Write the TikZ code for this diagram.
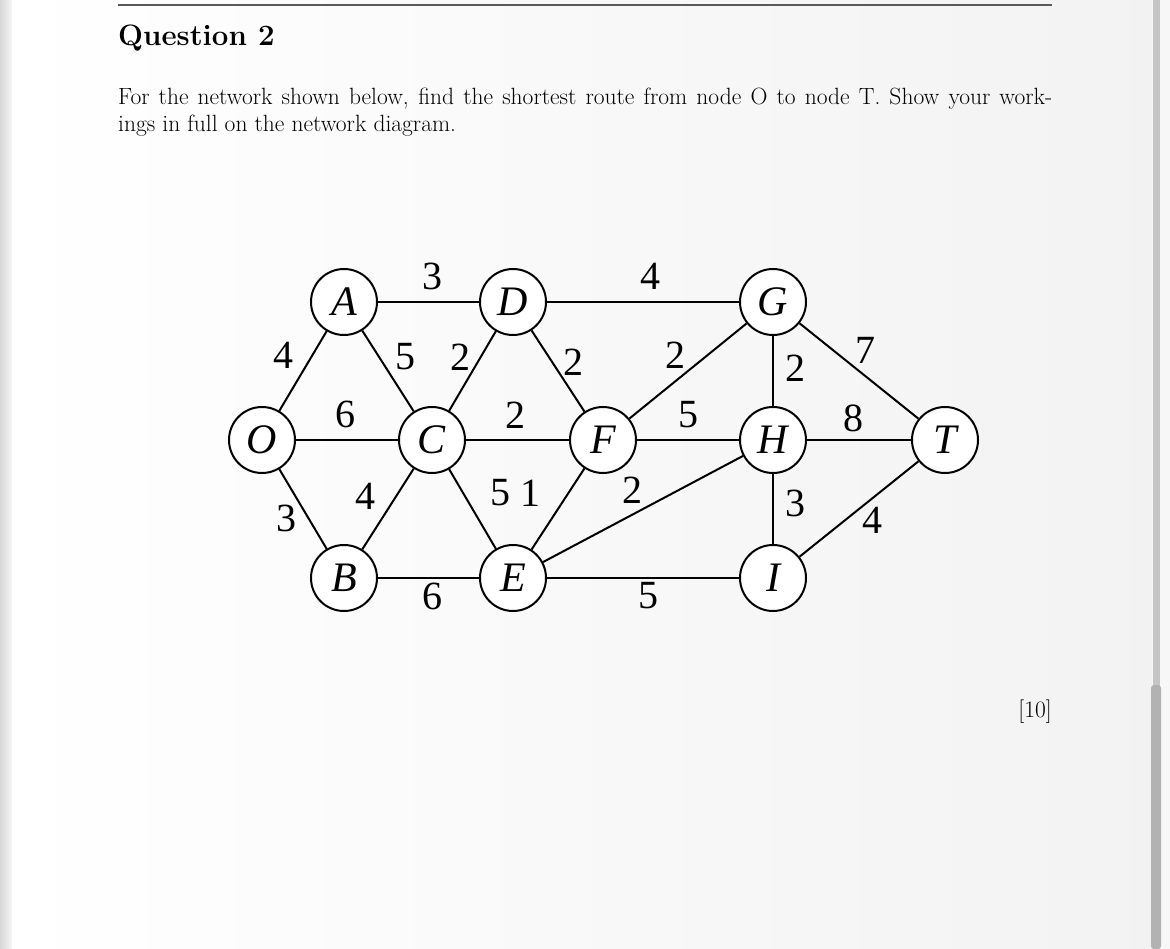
\documentclass[tikz,border=0pt]{standalone}
\usepackage{fontspec}
\newfontfamily\tnr{Liberation Serif}
\begin{document}
\begin{tikzpicture}[x=1pt,y=-1pt,
  vtx/.style={circle,draw,line width=2pt,fill=white,minimum size=66pt,inner sep=0pt,font=\tnr\fontsize{42}{42}\selectfont\itshape},
  wt/.style={font=\tnr\fontsize{40}{40}\selectfont,inner sep=0pt},
  edge/.style={line width=2pt}]
\useasboundingbox (0,0) rectangle (1170,949);
\shade[left color=gray!30,right color=gray!8] (0,0) rectangle (12,949);
\fill[gray!6] (12,0) rectangle (1170,949);
\shade[left color=white,right color=gray!10] (12,0) rectangle (1152,949);
\fill[gray!45] (1153,0) rectangle (1160,949);
\fill[gray!60,rounded corners=3pt] (1151,685) rectangle (1161,949);
\draw[line width=1.5pt,gray!70!black] (118,5) -- (1052,5);
\node[anchor=west,inner sep=0pt,font=\fontsize{29.5}{29.5}\selectfont\bfseries] (q) at (118,38) {Question 2};
\node[anchor=north west,inner sep=0pt,text width=934pt,align=justify,font=\fontsize{23.5}{27}\selectfont] (txt) at (118,88)
 {For the network shown below, find the shortest route from node O to node T. Show your work-\linebreak ings in full on the network diagram.};
\node[anchor=east,inner sep=0pt,font=\fontsize{23.5}{26}\selectfont] (m) at (1052,712) {[10]};
\node[vtx] (A) at (344,302) {A};
\node[vtx] (D) at (513,302) {D};
\node[vtx] (G) at (773,302) {G};
\node[vtx] (O) at (262,440) {O};
\node[vtx] (C) at (432,440) {C};
\node[vtx] (F) at (603,440) {F};
\node[vtx] (H) at (773,440) {H};
\node[vtx] (T) at (945,440) {T};
\node[vtx] (B) at (344,578) {B};
\node[vtx] (E) at (513,578) {E};
\node[vtx] (I) at (773,578) {I};
\foreach \a/\b in {O/A,O/C,O/B,A/D,A/C,D/C,D/G,D/F,C/F,C/B,C/E,E/F,B/E,F/G,F/H,G/H,G/T,H/T,H/I,E/H,E/I,I/T}
  \draw[edge] (\a) -- (\b);
\node[wt] (w1) at (283,355) {4};
\node[wt] (w2) at (345,414) {6};
\node[wt] (w3) at (286,518) {3};
\node[wt] (w4) at (432,276) {3};
\node[wt] (w5) at (405,357) {5};
\node[wt] (w6) at (460,357) {2};
\node[wt] (w7) at (650,276) {4};
\node[wt] (w8) at (573,362) {2};
\node[wt] (w9) at (515,415) {2};
\node[wt] (w10) at (365,496) {4};
\node[wt] (w11) at (500,493) {5};
\node[wt] (w12) at (530,493) {1};
\node[wt] (w13) at (432,596) {6};
\node[wt] (w14) at (675,355) {2};
\node[wt] (w15) at (688,415) {5};
\node[wt] (w16) at (795,368) {2};
\node[wt] (w17) at (865,350) {7};
\node[wt] (w18) at (853,418) {8};
\node[wt] (w19) at (795,503) {3};
\node[wt] (w20) at (632,490) {2};
\node[wt] (w21) at (648,596) {5};
\node[wt] (w22) at (872,520) {4};
\end{tikzpicture}
\end{document}
